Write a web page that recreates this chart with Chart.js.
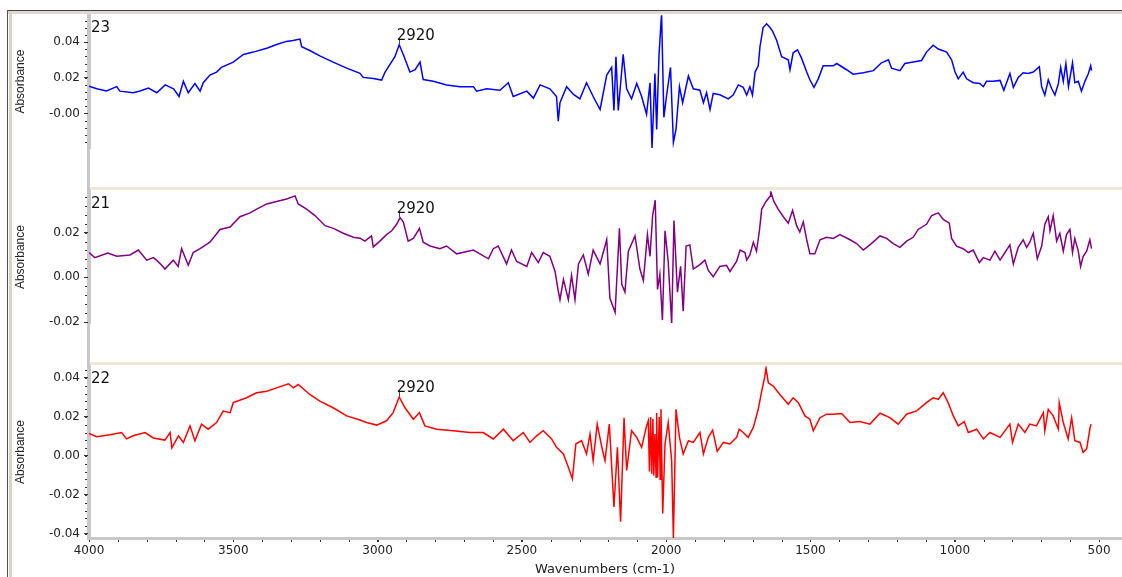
<!DOCTYPE html>
<html>
<head>
<meta charset="utf-8">
<title>FTIR spectra 23 / 21 / 22</title>
<script src="https://cdn.jsdelivr.net/npm/chart.js@4.4.1/dist/chart.umd.min.js"></script>
<style>
    html, body { margin: 0; padding: 0; background: #fff; }
    #wrap { position: relative; width: 1122px; height: 577px; overflow: hidden; }
    #wrap div, #wrap canvas { position: absolute; }
    .frameTop { left: 7px; top: 10px; width: 1115px; height: 1px; background: #404040; }
    .frameTop2 { left: 8px; top: 11px; width: 1114px; height: 3px; background: #dcdad2; }
    .frameLeft { left: 7px; top: 10px; width: 1px; height: 567px; background: #505050; }
    .frameLeft2 { left: 9px; top: 11px; width: 3px; height: 566px; background: #d6d3c9; }
    .sep { left: 89px; width: 1033px; height: 3px; background: #ece9d8; }
    .axisBar { left: 87px; top: 14px; width: 3px; height: 526px; background: #c8c8c8; }
    canvas { left: 0; }
</style>
</head>
<body>
<div id="wrap">
    <div class="frameTop"></div>
    <div class="frameTop2"></div>
    <div class="frameLeft"></div>
    <div class="frameLeft2"></div>
    <div class="sep" style="top:187px"></div>
    <div class="sep" style="top:362px"></div>
    <div class="axisBar"></div>
    <canvas id="c23" width="1122" height="193" style="top:4px"></canvas>
    <canvas id="c21" width="1122" height="192" style="top:180px"></canvas>
    <canvas id="c22" width="1122" height="222" style="top:355px"></canvas>
</div>
<script>
// x axis: wavenumbers, drawn high -> low
const xMin = 424;
const xMax = 4000;
const xTicks = [4000, 3500, 3000, 2500, 2000, 1500, 1000, 500];
const peakWn = 2920;

// sample 23 (blue)
const wn23 = [4000, 3973, 3939, 3904, 3893, 3847, 3823, 3794, 3765, 3736, 3707, 3688, 3673, 3656, 3633, 3615, 3604, 3581, 3558, 3541,
    3500, 3465, 3431, 3384, 3350, 3316, 3293, 3269, 3263, 3235, 3200, 3154, 3107, 3061, 3050, 3015, 2986, 2974, 2957, 2940,
    2925, 2911, 2888, 2870, 2853, 2842, 2807, 2761, 2714, 2668, 2657, 2622, 2576, 2547, 2530, 2483, 2460, 2437, 2403, 2380,
    2374, 2368, 2345, 2322, 2299, 2276, 2253, 2229, 2206, 2189, 2181, 2174, 2166, 2149, 2137, 2120, 2102, 2085, 2068, 2056,
    2049, 2039, 2033, 2025, 2016, 2008, 1999, 1985, 1975, 1966, 1954, 1943, 1923, 1906, 1883, 1871, 1860, 1848, 1837, 1814,
    1785, 1768, 1750, 1733, 1721, 1710, 1701, 1692, 1681, 1675, 1664, 1652, 1640, 1631, 1617, 1600, 1577, 1571, 1560, 1545,
    1531, 1513, 1502, 1488, 1473, 1456, 1421, 1409, 1375, 1352, 1317, 1282, 1254, 1230, 1219, 1190, 1173, 1144, 1115, 1098,
    1075, 1057, 1028, 1011, 999, 988, 971, 959, 936, 913, 901, 890, 867, 843, 830, 809, 797, 780, 763, 745,
    728, 707, 699, 688, 676, 664, 653, 641, 633, 624, 615, 606, 592, 584, 572, 561, 549, 537, 529, 526];
const abs23 = [.0152, .0138, .0126, .0150, .0125, .0116, .0126, .0142, .0116, .0160, .0138, .0095, .0180, .0116, .0168, .0125, .0172, .0215, .0232, .0258,
    .0288, .0331, .0344, .0366, .0387, .0404, .0409, .0417, .0374, .0353, .0323, .0288, .0254, .0225, .0202, .0196, .0187, .0232, .0275, .0318,
    .0385, .0331, .0232, .0245, .0288, .0190, .0180, .0160, .0150, .0150, .0125, .0138, .0130, .0172, .0095, .0125, .0086, .0160, .0138, .0095,
    -.0044, .0060, .0150, .0108, .0082, .0172, .0095, .0022, .0215, .0258, .0017, .0318, .0017, .0331, .0138, .0082, .0168, .0095, -.0005, .0172,
    -.0194, .0224, -.0090, .0322, .0560, -.0022, .0095, .0258, -.0163, -.0090, .0150, .0060, .0210, .0138, .0130, .0060, .0116, .0022, .0112, .0105,
    .0082, .0103, .0160, .0146, .0103, .0150, .0103, .0232, .0267, .0374, .0482, .0503, .0482, .0460, .0409, .0318, .0301, .0245, .0340, .0357,
    .0310, .0232, .0189, .0146, .0194, .0267, .0267, .0280, .0245, .0220, .0228, .0240, .0284, .0301, .0254, .0240, .0280, .0288, .0297, .0344,
    .0383, .0361, .0344, .0301, .0232, .0194, .0232, .0194, .0172, .0168, .0150, .0180, .0180, .0185, .0130, .0224, .0146, .0202, .0228, .0224,
    .0232, .0262, .0150, .0103, .0189, .0138, .0103, .0168, .0258, .0180, .0280, .0150, .0284, .0172, .0180, .0125, .0180, .0224, .0267, .0240];

// sample 21 (purple)
const wn21 = [4000, 3980, 3935, 3904, 3858, 3829, 3800, 3777, 3766, 3748, 3737, 3708, 3691, 3679, 3656, 3639, 3615, 3581, 3546, 3511,
    3477, 3442, 3419, 3384, 3350, 3315, 3286, 3275, 3246, 3217, 3182, 3153, 3119, 3084, 3061, 3044, 3021, 3015, 2992, 2969,
    2951, 2934, 2922, 2911, 2894, 2876, 2855, 2842, 2818, 2784, 2761, 2726, 2668, 2616, 2599, 2582, 2553, 2536, 2518, 2483,
    2466, 2443, 2426, 2403, 2385, 2374, 2368, 2356, 2339, 2328, 2316, 2304, 2287, 2270, 2253, 2229, 2206, 2195, 2177, 2162,
    2154, 2143, 2131, 2108, 2091, 2079, 2065, 2056, 2047, 2038, 2030, 2022, 2013, 2004, 1993, 1981, 1973, 1961, 1950, 1941,
    1931, 1918, 1906, 1883, 1866, 1854, 1837, 1814, 1791, 1779, 1756, 1744, 1727, 1721, 1710, 1698, 1687, 1677, 1669, 1654,
    1640, 1638, 1627, 1612, 1594, 1577, 1562, 1548, 1537, 1525, 1513, 1502, 1485, 1467, 1444, 1421, 1398, 1363, 1340, 1317,
    1294, 1259, 1236, 1213, 1190, 1167, 1144, 1127, 1098, 1080, 1057, 1040, 1019, 1011, 994, 971, 953, 936, 915, 901,
    878, 861, 843, 826, 809, 797, 780, 763, 751, 740, 728, 714, 699, 688, 676, 670, 659, 647, 636, 624,
    613, 601, 592, 584, 572, 564, 555, 543, 532, 526];
const abs21 = [.0111, .0088, .0109, .0094, .0100, .0122, .0077, .0088, .0077, .0054, .0037, .0077, .0049, .0128, .0054, .0111, .0128, .0157, .0214, .0225,
    .0271, .0288, .0305, .0328, .0339, .0350, .0364, .0328, .0305, .0276, .0231, .0219, .0197, .0179, .0175, .0162, .0185, .0136, .0162, .0191,
    .0208, .0237, .0267, .0248, .0162, .0174, .0219, .0157, .0140, .0128, .0140, .0105, .0122, .0083, .0128, .0140, .0060, .0122, .0071, .0049,
    .0111, .0066, .0111, .0094, .0026, -.0060, -.0100, -.0009, -.0100, .0009, -.0100, .0060, .0100, .0014, .0122, .0060, .0168, -.0094, -.0156, .0219,
    -.0031, -.0066, .0117, .0185, .0037, -.0014, .0191, .0094, .0276, .0345, -.0054, .0014, -.0191, .0208, .0071, -.0208, .0254, -.0066, .0049, -.0151,
    .0140, .0145, .0037, .0057, .0077, .0031, .0003, .0049, .0054, .0026, .0071, .0122, .0111, .0077, .0100, .0157, .0117, .0208, .0305, .0339,
    .0362, .0385, .0339, .0305, .0271, .0242, .0299, .0231, .0202, .0248, .0168, .0105, .0105, .0168, .0179, .0174, .0191, .0168, .0151, .0122,
    .0145, .0185, .0174, .0151, .0134, .0162, .0179, .0214, .0237, .0276, .0288, .0259, .0242, .0174, .0139, .0128, .0111, .0122, .0066, .0088,
    .0077, .0117, .0077, .0111, .0145, .0060, .0134, .0168, .0134, .0157, .0197, .0083, .0139, .0237, .0271, .0208, .0276, .0162, .0197, .0117,
    .0191, .0214, .0111, .0174, .0117, .0049, .0094, .0117, .0168, .0128];

// sample 22 (red)
const wn22 = [4000, 3973, 3927, 3887, 3870, 3847, 3806, 3777, 3737, 3719, 3713, 3690, 3673, 3650, 3633, 3610, 3587, 3558, 3535, 3511,
    3500, 3454, 3419, 3384, 3350, 3309, 3292, 3275, 3235, 3200, 3154, 3107, 3061, 3038, 3003, 2969, 2946, 2925, 2905, 2876,
    2855, 2836, 2795, 2738, 2680, 2634, 2599, 2564, 2530, 2495, 2472, 2449, 2426, 2397, 2380, 2356, 2339, 2325, 2313, 2293,
    2276, 2264, 2253, 2239, 2224, 2212, 2197, 2181, 2169, 2158, 2146, 2137, 2120, 2102, 2085, 2068, 2062, 2058, 2054, 2050,
    2046, 2043, 2039, 2035, 2033, 2030, 2024, 2021, 2018, 2012, 2004, 1993, 1981, 1975, 1966, 1954, 1941, 1923, 1906, 1883,
    1871, 1854, 1839, 1823, 1802, 1779, 1756, 1747, 1733, 1716, 1698, 1681, 1669, 1658, 1654, 1646, 1629, 1606, 1577, 1560,
    1542, 1519, 1502, 1490, 1467, 1444, 1421, 1392, 1363, 1329, 1294, 1259, 1225, 1196, 1167, 1132, 1098, 1075, 1057, 1040,
    1023, 1005, 988, 967, 953, 924, 901, 878, 843, 809, 800, 780, 757, 740, 717, 693, 688, 676, 659, 641,
    638, 624, 607, 595, 584, 566, 555, 543, 532, 528];
const abs22 = [.0115, .0098, .0108, .0120, .0087, .0103, .0120, .0092, .0081, .0120, .0041, .0103, .0069, .0154, .0078, .0163, .0137, .0171, .0230, .0222,
    .0273, .0298, .0324, .0332, .0349, .0370, .0349, .0366, .0315, .0281, .0247, .0205, .0184, .0171, .0158, .0180, .0222, .0302, .0247, .0188,
    .0222, .0154, .0137, .0129, .0120, .0120, .0087, .0137, .0078, .0120, .0069, .0103, .0129, .0087, .0044, .0010, -.0058, -.0117, .0061, .0078,
    .0010, .0112, -.0024, .0163, .0052, -.0024, .0163, -.0262, .0044, -.0338, .0196, -.0075, .0129, .0095, .0044, .0154, .0180, -.0080, .0200, -.0092,
    .0190, -.0100, .0112, -.0110, .0220, -.0109, .0200, -.0120, .0239, -.0295, .0061, .0171, -.0024, -.0422, .0239, .0095, .0010, .0078, .0069, .0120,
    .0010, .0095, .0132, .0023, .0069, .0061, .0095, .0137, .0120, .0095, .0146, .0239, .0332, .0409, .0451, .0375, .0358, .0315, .0265, .0298,
    .0273, .0205, .0188, .0129, .0196, .0214, .0214, .0217, .0171, .0176, .0163, .0219, .0196, .0163, .0214, .0231, .0273, .0298, .0290, .0324,
    .0273, .0205, .0154, .0176, .0120, .0137, .0087, .0120, .0095, .0163, .0069, .0163, .0120, .0163, .0154, .0222, .0129, .0239, .0205, .0137,
    .0273, .0171, .0087, .0196, .0078, .0069, .0018, .0036, .0137, .0163];

const FONT = '"DejaVu Sans", sans-serif';

// small tick dots between the labelled ticks
const minorTicks = {
    id: 'minorTicks',
    afterDraw(chart, args, opts) {
        const { ctx, scales: { x, y } } = chart;
        ctx.save();
        ctx.fillStyle = '#333';
        const k0 = Math.ceil(y.min / opts.yStep), k1 = Math.floor(y.max / opts.yStep);
        for (let k = k0; k <= k1; k++) {
            const py = Math.round(y.getPixelForValue(k * opts.yStep));
            ctx.fillRect(y.right - 4, py, 2, 1);
        }
        if (opts.xStep && x.options.display) {
            for (let k = Math.ceil(x.min / opts.xStep); k * opts.xStep <= x.max; k++) {
                const px = Math.round(x.getPixelForValue(k * opts.xStep));
                ctx.fillRect(px, x.top + 2, 1, 2);
            }
        }
        ctx.restore();
    }
};

// sample number in the corner + the 2920 peak label
const panelText = {
    id: 'panelText',
    afterDatasetsDraw(chart) {
        const { ctx, chartArea, scales: { x, y } } = chart;
        const ds = chart.data.datasets[0];
        const near = ds.data.filter((p) => Math.abs(p.x - peakWn) <= 20).map((p) => p.y);
        const py = y.getPixelForValue(Math.max(...near));
        const px = x.getPixelForValue(peakWn);
        ctx.save();
        ctx.fillStyle = '#111';
        ctx.font = '15px ' + FONT;
        ctx.textBaseline = 'alphabetic';
        ctx.fillText(ds.label, chartArea.left + 2, chartArea.top + 16.5);
        ctx.strokeStyle = '#444';
        ctx.lineWidth = 1;
        ctx.beginPath();
        ctx.moveTo(Math.round(px) - 1.5, py - 0.5);
        ctx.lineTo(Math.round(px) - 1.5, py - 5);
        ctx.stroke();
        ctx.fillText(String(peakWn), px - 4, py - 5);
        ctx.restore();
    }
};

function panel(id, name, wn, vals, color, yMin, yMax, zeroText, showX) {
    return new Chart(document.getElementById(id), {
        type: 'line',
        data: {
            datasets: [{
                label: name,
                data: wn.map((w, i) => ({ x: w, y: vals[i] })),
                borderColor: color,
                borderWidth: 1.5,
                pointRadius: 0,
                tension: 0,
                fill: false,
            }],
        },
        options: {
            responsive: false,
            animation: false,
            devicePixelRatio: 1,
            layout: { padding: { top: 10, bottom: showX ? 0 : 10, left: 0, right: 1 } },
            plugins: {
                legend: { display: false },
                tooltip: { enabled: false },
                minorTicks: { yStep: 0.004, xStep: 100 },
            },
            scales: {
                x: {
                    type: 'linear',
                    reverse: true,
                    min: xMin,
                    max: xMax,
                    display: showX,
                    afterBuildTicks: (s) => { s.ticks = xTicks.map((v) => ({ value: v })); },
                    afterFit: (s) => { s.height = 39; },
                    border: { color: '#c8c8c8', width: 3 },
                    grid: { drawOnChartArea: false, tickLength: 4, tickColor: '#333' },
                    ticks: {
                        autoSkip: false, maxRotation: 0,
                        padding: 2, color: '#222', font: { family: FONT, size: 12 },
                        callback: (v) => String(v),
                    },
                    title: {
                        display: true, text: 'Wavenumbers (cm-1)', color: '#222',
                        font: { family: FONT, size: 13 }, padding: 0,
                    },
                },
                y: {
                    min: yMin,
                    max: yMax,
                    afterFit: (s) => { s.width = 89; },
                    border: { color: '#c8c8c8', width: 3 },
                    grid: { drawOnChartArea: false, tickLength: 5, tickColor: '#333' },
                    ticks: {
                        stepSize: 0.02, includeBounds: false, padding: 4, color: '#222',
                        font: { family: FONT, size: 12 },
                        callback: (v) => (Math.abs(v) < 1e-9 ? zeroText : v.toFixed(2)),
                    },
                    title: {
                        display: true, text: 'Absorbance', color: '#222',
                        font: { family: '"Liberation Sans", Arial, sans-serif', size: 12 },
                        padding: { top: 13, bottom: 0 },
                    },
                },
            },
        },
        plugins: [minorTicks, panelText],
    });
}

panel('c23', '23', wn23, abs23, '#0000ff', -0.0194, 0.0551, '-0.00', false);
panel('c21', '21', wn21, abs21, '#800080', -0.0204, 0.0385, '0.00', false);
panel('c22', '22', wn22, abs22, '#ff0000', -0.0421, 0.0460, '0.00', true);
</script>
</body>
</html>
